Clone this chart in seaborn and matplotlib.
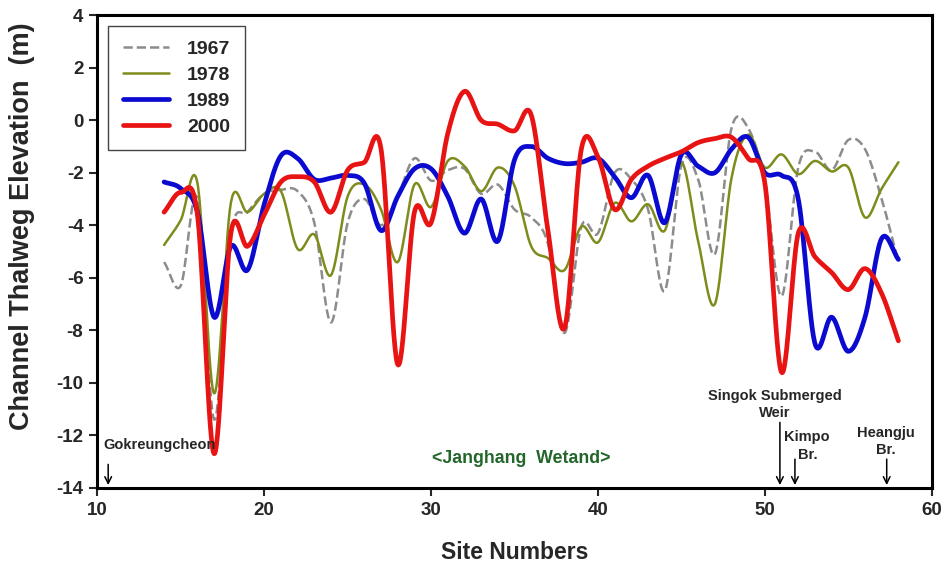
import numpy as np
import pandas as pd
import matplotlib
matplotlib.use("Agg")
import matplotlib.pyplot as plt
import seaborn as sns

# Survey sites along the river channel
sites = list(range(14, 59))

# Channel thalweg elevation (m) at each site, by survey year
elev_1967 = [-5.4, -6.3, -3.0, -11.4, -4.3, -3.5, -2.8, -2.65, -2.7, -3.9,
             -7.7, -3.9, -3.0, -4.0, -2.9, -1.45, -2.3, -1.9, -1.85, -2.8,
             -2.45, -3.4, -3.7, -4.7, -8.1, -4.05, -4.3, -2.0, -2.25, -3.4,
             -6.5, -1.7, -2.25, -5.1, -0.3, -0.3, -2.4, -6.7, -1.8, -1.2,
             -1.9, -0.75, -1.1, -3.0, -5.4]
elev_1978 = [-4.75, -3.8, -2.4, -10.4, -3.15, -3.5, -2.8, -2.7, -4.9, -4.35,
             -5.9, -2.9, -2.45, -3.4, -5.4, -2.45, -3.3, -1.55, -1.75, -2.7,
             -1.8, -2.5, -4.8, -5.25, -5.7, -4.05, -4.65, -3.15, -3.85, -3.2,
             -4.2, -1.6, -4.6, -7.0, -2.2, -0.55, -1.8, -1.3, -2.05, -1.55,
             -1.95, -1.8, -3.7, -2.6, -1.6]
elev_1989 = [-2.35, -2.6, -3.5, -7.5, -4.8, -5.7, -3.2, -1.35, -1.45, -2.25,
             -2.2, -2.1, -2.4, -4.2, -2.9, -1.85, -1.85, -2.9, -4.3, -3.0,
             -4.6, -1.5, -1.0, -1.45, -1.65, -1.6, -1.45, -2.15, -2.95, -2.1,
             -3.9, -1.3, -1.75, -2.0, -1.1, -0.65, -2.0, -2.1, -3.0, -8.5,
             -7.5, -8.8, -7.5, -4.5, -5.3]
elev_2000 = [-3.5, -2.75, -3.6, -12.7, -4.3, -4.8, -3.6, -2.35, -2.15, -2.35,
             -3.5, -1.9, -1.6, -1.1, -9.3, -3.5, -3.9, -0.5, 1.1, 0.0,
             -0.15, -0.4, 0.2, -4.2, -7.9, -1.1, -1.4, -3.4, -2.25, -1.75,
             -1.45, -1.2, -0.85, -0.7, -0.65, -1.45, -2.4, -9.6, -4.3, -5.2,
             -5.8, -6.45, -5.65, -6.6, -8.4]

years = ["1967", "1978", "1989", "2000"]
series = [elev_1967, elev_1978, elev_1989, elev_2000]
colors = ["#8c8c8c", "#7f8c1c", "#0a0ad0", "#e81414"]
widths = [1.8, 1.8, 3.4, 3.4]
styles = ["--", "-", "-", "-"]


def smooth_curve(x, y, per_seg=30):
    """Catmull-Rom (cubic Hermite) curve through every (x, y) point."""
    x = np.asarray(x, float)
    y = np.asarray(y, float)
    m = np.gradient(y, x)
    xs, ys = [], []
    for i in range(len(x) - 1):
        h = x[i + 1] - x[i]
        t = np.linspace(0.0, 1.0, per_seg, endpoint=(i == len(x) - 2))
        h00 = 2 * t ** 3 - 3 * t ** 2 + 1
        h10 = t ** 3 - 2 * t ** 2 + t
        h01 = -2 * t ** 3 + 3 * t ** 2
        h11 = t ** 3 - t ** 2
        xs.append(x[i] + t * h)
        ys.append(h00 * y[i] + h10 * h * m[i] + h01 * y[i + 1] + h11 * h * m[i + 1])
    return np.concatenate(xs), np.concatenate(ys)


frames = []
for yr, vals in zip(years, series):
    xs, ys = smooth_curve(sites, vals)
    frames.append(pd.DataFrame({"Site": xs, "Elevation": ys, "Year": yr}))
df = pd.concat(frames, ignore_index=True)

sns.set_style("ticks")
plt.rcParams["font.family"] = ["Liberation Sans", "DejaVu Sans"]
plt.rcParams["font.weight"] = "bold"
plt.rcParams["axes.unicode_minus"] = False

fig = plt.figure(figsize=(9.45, 5.64), dpi=100)
ax = fig.add_axes([0.103, 0.135, 0.883, 0.838])

for yr, col, lw, ls in zip(years, colors, widths, styles):
    sns.lineplot(data=df[df["Year"] == yr], x="Site", y="Elevation", ax=ax,
                 color=col, linewidth=lw, linestyle=ls, label=yr,
                 sort=False, estimator=None)

ax.set_xlim(10, 60)
ax.set_ylim(-14, 4)
ax.set_xticks(range(10, 61, 10))
ax.set_yticks(range(-14, 5, 2))
ax.tick_params(axis="both", direction="out", length=6, width=1.5,
               labelsize=13.5, pad=4)
for lab in ax.get_xticklabels() + ax.get_yticklabels():
    lab.set_fontweight("bold")
for sp in ax.spines.values():
    sp.set_visible(True)
    sp.set_linewidth(2.2)
    sp.set_color("black")

ax.set_xlabel("Site Numbers", fontsize=16.5, fontweight="bold", labelpad=16)
ax.set_ylabel("Channel Thalweg Elevation  (m)", fontsize=19.5,
              fontweight="bold", va="center")
ax.yaxis.set_label_coords(-0.09, 0.553)

leg = ax.legend(loc="upper left", bbox_to_anchor=(0.013, 0.977),
                borderaxespad=0.0, handlelength=2.4, handletextpad=0.9,
                labelspacing=0.42, fancybox=False, framealpha=1,
                borderpad=0.75, prop={"weight": "bold", "size": 14})
leg.get_frame().set_edgecolor("#444444")
leg.get_frame().set_linewidth(1.0)

# Landmarks along the channel
arrow = dict(arrowstyle="->", color="black", lw=1.1, mutation_scale=12)
note = dict(fontsize=10.5, fontweight="bold", va="center")
ax.text(10.35, -12.35, "Gokreungcheon", ha="left", **note)
ax.annotate("", xy=(10.65, -14), xytext=(10.65, -13.0), arrowprops=arrow)

ax.text(35.4, -12.9, "<Janghang  Wetand>", fontsize=12.8, fontweight="bold",
        color="#22662a", ha="center", va="center")

ax.text(50.6, -10.5, "Singok Submerged", ha="center", **note)
ax.text(50.6, -11.15, "Weir", ha="center", **note)
ax.annotate("", xy=(50.9, -14), xytext=(50.9, -11.4), arrowprops=arrow)

ax.text(52.5, -12.05, "Kimpo", ha="center", **note)
ax.text(52.55, -12.75, "Br.", ha="center", **note)
ax.annotate("", xy=(51.8, -14), xytext=(51.8, -12.8), arrowprops=arrow)

ax.text(57.25, -11.9, "Heangju", ha="center", **note)
ax.text(57.25, -12.55, "Br.", ha="center", **note)
ax.annotate("", xy=(57.3, -14), xytext=(57.3, -12.8), arrowprops=arrow)

fig.savefig("out.png", dpi=100)
